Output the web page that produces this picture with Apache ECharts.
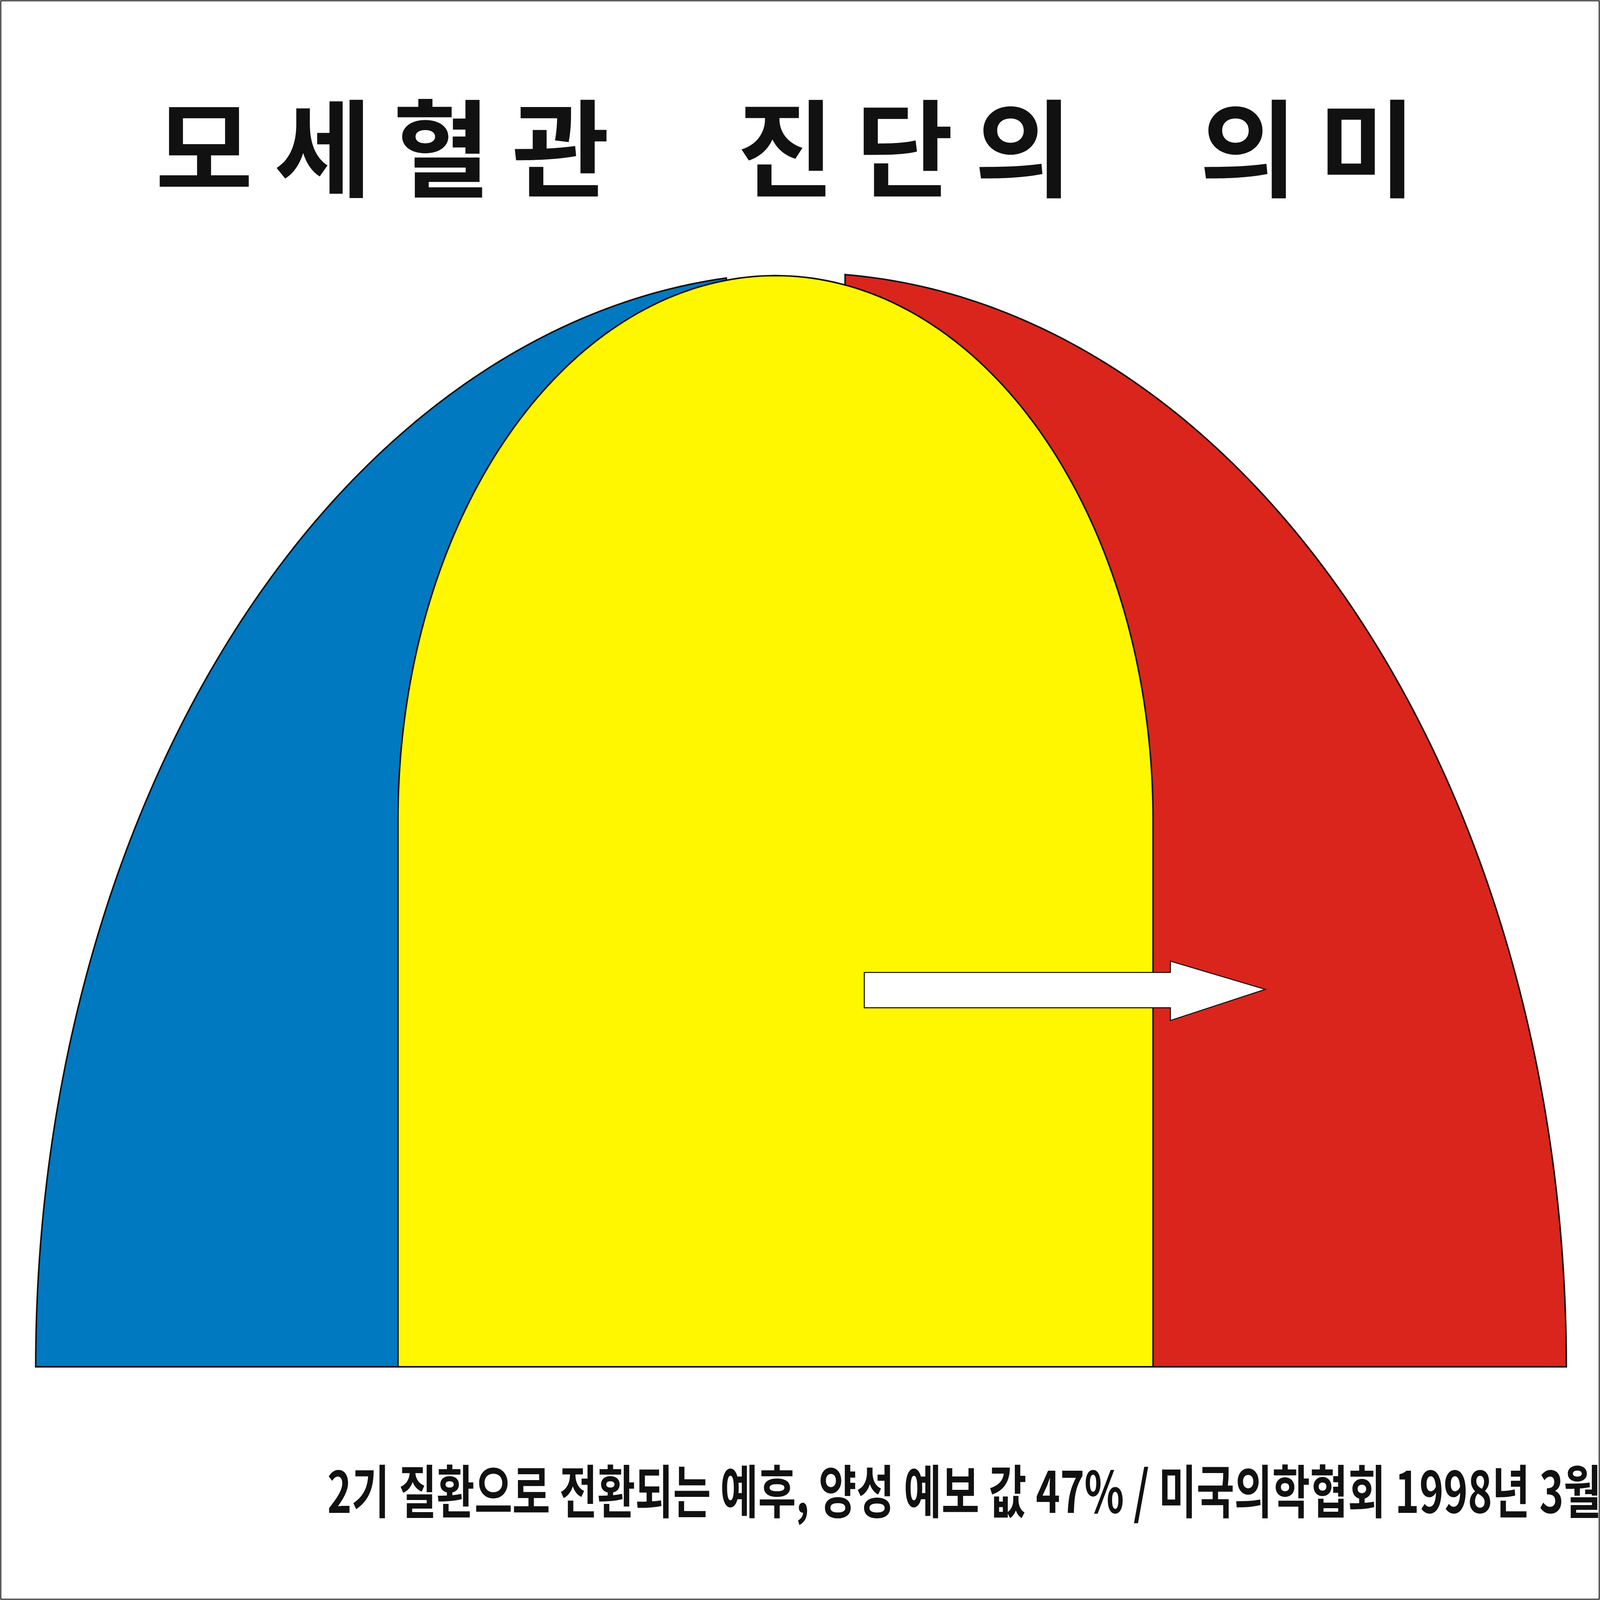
<!DOCTYPE html>
<html><head><meta charset="utf-8">
<script src="https://cdn.jsdelivr.net/npm/echarts@6/dist/echarts.min.js"></script>
<style>html,body{margin:0;padding:0;background:#fff;overflow:hidden}#c{width:100vw;height:100vh}</style>
</head><body><div id="c"></div>
<script>
const title = '모세혈관 진단의 의미';
const subtitle = '모세혈관 변형';
const categories = ['건강양호', '잠복기', '발병'];
const values = [11, 89, 12.6];
const colors = ['#0079C1', '#FFF700', '#DA251D'];
const arrowLabel = '10~20년';
const footnote = '2기 질환으로 전환되는 예후, 양성 예보 값 47% / 미국의학협회 1998년 3월 23일';

const W = 1568, H = 1132;
const FONT = '"Noto Sans CJK KR", "Noto Sans", sans-serif';
const chart = echarts.init(document.getElementById('c'));
const CW = chart.getWidth(), CH = chart.getHeight();
const SX = CW / W, SY = CH / H, S = Math.min(SX, SY);

function ell(cx, cy, rx, ry, a0, a1, n) {
  const p = [];
  for (let i = 0; i <= n; i++) {
    const t = (a0 + (a1 - a0) * i / n) * Math.PI / 180;
    p.push([cx + rx * Math.cos(t), cy - ry * Math.sin(t)]);
  }
  return p;
}
const shapes = [
  ell(785, 967, 750, 774, 180, 95.6, 120).concat([[712, 967]]),
  [[390, 967]].concat(ell(760, 580, 370, 385, 180, 0, 160)).concat([[1130, 967]]),
  ell(785, 967, 750, 774, 86.7, 0, 120).concat([[828, 967]]),
];
const order = [0, 2, 1];
const labelPos = [[240, 678, 232, 797], [690, 667, 695, 745], [1325, 690, 1345, 793]];

function txt(x, y, t, size, extra) {
  return Object.assign({ type: 'text', x: x * SX, y: y * SY,
    style: { text: t, fill: '#111', font: 'bold ' + size * S + 'px ' + FONT, align: 'center', verticalAlign: 'middle' } }, extra || {});
}
const sp = s => s.split('').join('\u2009');

chart.setOption({
  animation: false,
  backgroundColor: '#fff',
  grid: { left: 0, right: 0, top: 0, bottom: 0 },
  xAxis: { type: 'value', min: 0, max: W, show: false },
  yAxis: { type: 'value', min: 0, max: H, inverse: true, show: false },
  series: [{
    type: 'custom',
    data: order.map(i => [i]),
    renderItem: function (params, api) {
      const i = api.value(0);
      const pts = shapes[i].map(p => api.coord(p));
      return { type: 'polygon', shape: { points: pts },
        style: { fill: colors[i], stroke: '#111', lineWidth: 1.5 * S } };
    }
  }, {
    type: 'custom',
    data: [[0]],
    renderItem: function (params, api) {
      const pts = [[847, 688], [1147, 688], [1147, 680], [1240, 700], [1147, 722], [1147, 713], [847, 713]].map(p => api.coord(p));
      return { type: 'polygon', shape: { points: pts }, style: { fill: '#fff', stroke: '#111', lineWidth: 1 * S } };
    }
  }],
  graphic: [
    { type: 'rect', shape: { x: 2, y: 2, width: CW - 4, height: CH - 4 }, style: { fill: 'none', stroke: '#222', lineWidth: S } },
    txt(770, 105, '모\u2009세\u2009혈\u2009관\u2003\u2009진\u2009단\u2009의\u2003\u2009의\u2009미', 104),
    txt(750, 437, '모\u2009세\u2009혈\u2009관\u2002\u2009변\u2009형', 74),
    txt(labelPos[0][0], labelPos[0][1], sp(categories[0]), 58),
    txt(labelPos[0][2], labelPos[0][3], values[0] + '%', 58),
    txt(labelPos[1][0], labelPos[1][1], sp(categories[1]), 58),
    txt(labelPos[1][2], labelPos[1][3], values[1] + '%', 58),
    txt(990, 657, sp(arrowLabel), 50),
    txt(labelPos[2][0], labelPos[2][1], sp(categories[2]), 58),
    txt(labelPos[2][2], labelPos[2][3], values[2] + '%', 58),
    txt(775, 1055, footnote, 56, { scaleX: 0.72, originX: 775 * SX, originY: 1055 * SY })
  ]
});
</script></body></html>
